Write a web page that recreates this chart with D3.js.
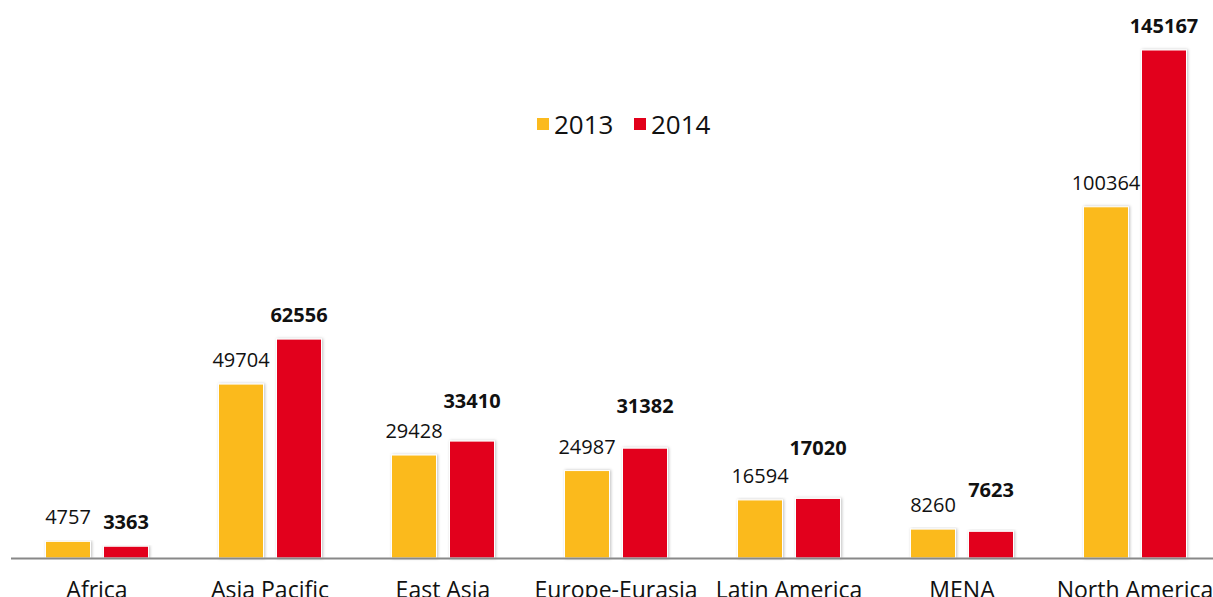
<!DOCTYPE html>
<html>
  <head>
    <meta charset="utf-8">
    <style>
      body { margin: 0; background: white; overflow: hidden; }
      svg { display: block; font-family: "Open Sans", sans-serif; }
      .val { font-size: 20px; fill: #111; text-anchor: middle; }
      .val.bold { font-weight: bold; }
      .legend text { font-size: 26px; fill: #111; }
    </style>
  </head>
  <body>
  <svg id="chart" width="1213" height="597"></svg>
  <script src="https://d3js.org/d3.v7.min.js"></script>
  <script>

  var regions = ["Africa", "Asia Pacific", "East Asia", "Europe-Eurasia", "Latin America", "MENA", "North America"];
  var years = ["2013", "2014"];
  var values2013 = [4757, 49704, 29428, 24987, 16594, 8260, 100364];
  var values2014 = [3363, 62556, 33410, 31382, 17020, 7623, 145167];

  // extra lift (px) the original gave some 2014 labels
  var lift2014 = [0, 0, 16, 18, 26, 17, 0];

  var colors = {"2013": "#FBBA1E", "2014": "#E2001A"};

  var svg = d3.select("#chart");
  var baseY = 558;

  var x = d3.scaleBand()
    .domain(regions)
    .range([10.5, 10.5 + 173 * 7])
    .paddingInner(0)
    .paddingOuter(0);

  var y = d3.scaleLinear()
    .domain([0, 145167])
    .range([baseY, 50]);

  var defs = svg.append("defs");
  var f = defs.append("filter").attr("id", "shadow")
    .attr("x", "-20%").attr("y", "-5%").attr("width", "140%").attr("height", "110%");
  f.append("feDropShadow")
    .attr("dx", 1).attr("dy", 0).attr("stdDeviation", 1.5)
    .attr("flood-color", "#000").attr("flood-opacity", 0.25);

  var barW = 45, gap = 13;
  var series = [values2013, values2014];

  series.forEach(function(vals, s) {
    var yr = years[s];
    svg.append("g").selectAll("rect")
      .data(vals)
      .enter().append("rect")
      .attr("x", function(d, i) {
        var c = x(regions[i]) + x.bandwidth() / 2;
        return s === 0 ? c - gap / 2 - barW : c + gap / 2;
      })
      .attr("y", function(d) { return y(d); })
      .attr("width", barW)
      .attr("height", function(d) { return baseY - y(d); })
      .attr("fill", colors[yr])
      .attr("stroke", "#fff")
      .attr("stroke-width", 1)
      .attr("filter", "url(#shadow)");

    svg.append("g").selectAll("text")
      .data(vals)
      .enter().append("text")
      .attr("class", s === 0 ? "val" : "val bold")
      .attr("x", function(d, i) {
        var c = x(regions[i]) + x.bandwidth() / 2;
        return s === 0 ? c - gap / 2 - barW / 2 : c + gap / 2 + barW / 2;
      })
      .attr("y", function(d, i) { return y(d) - 17 - (s === 1 ? lift2014[i] : 0); })
      .text(function(d) { return d; });
  });

  // category axis
  var xAxis = d3.axisBottom(x).tickSize(0).tickPadding(24);
  var ax = svg.append("g")
    .attr("transform", "translate(0," + baseY + ")")
    .call(xAxis);
  ax.select(".domain").attr("stroke", "#888").attr("stroke-width", 2);
  ax.selectAll("text").attr("font-family", "Open Sans, sans-serif").attr("font-size", 23).attr("fill", "#111");

  // legend
  var legend = svg.append("g").attr("class", "legend");
  var lx = [537, 634];
  years.forEach(function(yr, i) {
    legend.append("rect")
      .attr("x", lx[i]).attr("y", 118)
      .attr("width", 12).attr("height", 12)
      .attr("fill", colors[yr]);
    legend.append("text")
      .attr("x", lx[i] + 17).attr("y", 134)
      .text(yr);
  });

  </script>
  </body>
</html>
